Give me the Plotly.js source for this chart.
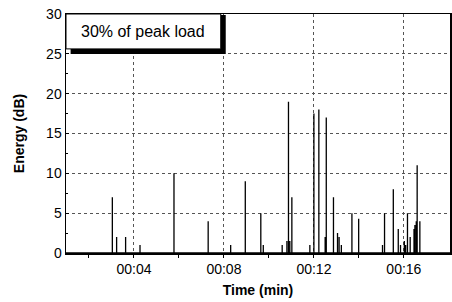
<!DOCTYPE html>
<html><head><meta charset="utf-8">
<script src="https://cdn.plot.ly/plotly-3.0.1.min.js"></script>
<style>html,body{margin:0;padding:0;background:#fff}#c{width:452px;height:302px}</style>
</head><body><div id="c"></div>
<script>
// Event times (minutes) and energy peaks (dB)
const times = [3.04,3.23,3.63,4.27,5.78,7.30,8.30,8.95,9.64,9.75,10.59,10.80,10.87,10.93,11.02,11.82,12.00,12.22,12.50,12.55,12.87,13.05,13.12,13.22,13.69,13.99,15.05,15.14,15.53,15.75,15.85,16.02,16.08,16.16,16.28,16.45,16.49,16.55,16.59,16.71];
const energy = [7,2,2,1,10,4,1,9,5,1,1,1.5,19,1.5,7,1,17.5,18,2,17,7,2.5,2,1,5,4.3,1,5,8,3,1,1.5,1,5,2,3,3.5,4,11,4];
const tickVals = [4,8,12,16];
const tickText = ["00:04","00:08","00:12","00:16"];
const legendLabel = "30% of peak load";

const xs = [0.98], ys = [0];
for (let i = 0; i < times.length; i++) {
  xs.push(times[i], times[i], times[i]);
  ys.push(0, energy[i], 0);
}
xs.push(18.1); ys.push(0);

const trace = {x: xs, y: ys, type: 'scatter', mode: 'lines',
  line: {color: '#000', width: 1.3}, hoverinfo: 'skip', showlegend: false};

const layout = {
  width: 452, height: 302,
  margin: {l: 66, r: 2, t: 14, b: 49},
  paper_bgcolor: '#fff', plot_bgcolor: '#fff',
  font: {family: 'Arial, Liberation Sans, sans-serif', color: '#000', size: 14},
  xaxis: {range: [0.98, 18.05], tickvals: tickVals, ticktext: tickText,
    showgrid: true, gridcolor: '#555', griddash: 'dot', gridwidth: 1,
    showline: true, linecolor: '#000', linewidth: 1.5, mirror: true,
    ticks: 'outside', ticklen: 3, tickcolor: '#000', zeroline: false,
    minor: {tickvals: [2,6,10,14], ticks: 'outside', ticklen: 3, tickcolor: '#000'},
    tickfont: {size: 14},
    title: {text: '<b>Time (min)</b>', font: {size: 14}, standoff: 9}},
  yaxis: {range: [0, 30], tickvals: [0,5,10,15,20,25,30],
    showgrid: true, gridcolor: '#555', griddash: 'dot', gridwidth: 1,
    showline: true, linecolor: '#000', linewidth: 1.5, mirror: true,
    ticks: 'inside', ticklen: 3, tickcolor: '#000', zeroline: false,
    minor: {dtick: 2.5, ticks: 'inside', ticklen: 2, tickcolor: '#000'},
    tickfont: {size: 14},
    title: {text: '<b>Energy (dB)</b>', font: {size: 14}, standoff: 18}},
  shapes: [
    {type: 'rect', xref: 'paper', yref: 'paper', x0: 0.012, x1: 0.416, y0: 0.833, y1: 0.996,
      fillcolor: '#000', line: {width: 0}},
    {type: 'rect', xref: 'paper', yref: 'paper', x0: 0.0, x1: 0.403, y0: 0.854, y1: 1.0,
      fillcolor: '#fff', line: {color: '#000', width: 1}}
  ],
  annotations: [
    {text: legendLabel, xref: 'paper', yref: 'paper', x: 0.2, y: 0.927,
      showarrow: false, font: {size: 16, color: '#000'}, xanchor: 'center', yanchor: 'middle'}
  ]
};
Plotly.newPlot('c', [trace], layout, {displayModeBar: false, staticPlot: true});
</script></body></html>
